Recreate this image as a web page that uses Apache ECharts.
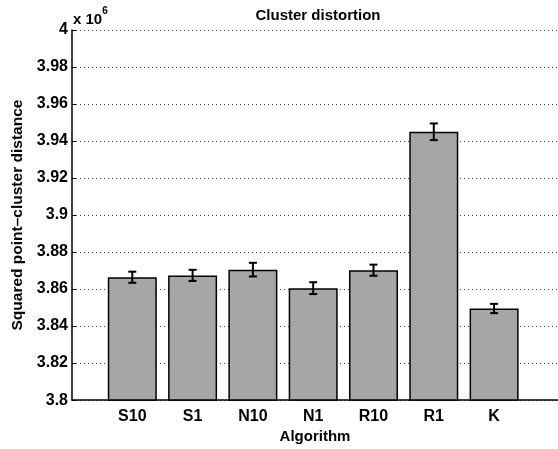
<!DOCTYPE html>
<html>
<head>
<meta charset="utf-8">
<script src="https://cdn.jsdelivr.net/npm/echarts@6/dist/echarts.min.js"></script>
<style>
  html, body { margin: 0; padding: 0; background: #fff; }
  #chart { width: 558px; height: 449px; }
</style>
</head>
<body>
<div id="chart"></div>
<script>
// Algorithms compared
const categories = ['S10', 'S1', 'N10', 'N1', 'R10', 'R1', 'K'];
// Mean squared point-cluster distance, in units of 10^6
const distortion = [3.8664, 3.8674, 3.8705, 3.8605, 3.8702, 3.9450, 3.8495];
// Half-height of each error bar, same units
const errorHalf = [0.0030, 0.0030, 0.0037, 0.0032, 0.0030, 0.0045, 0.0025];
// Y-axis ticks
const yMin = 3.8, yMax = 4.0, yStep = 0.02;

const FONT = 'Liberation Sans, Arial, Helvetica, sans-serif';

const barData = categories.map((c, i) => [i + 1, distortion[i]]);
const errData = categories.map((c, i) => [i + 1, distortion[i] - errorHalf[i], distortion[i] + errorHalf[i]]);

const chart = echarts.init(document.getElementById('chart'), null, { renderer: 'canvas' });

chart.setOption({
  animation: false,
  backgroundColor: '#ffffff',
  title: {
    text: 'Cluster distortion',
    left: 313, top: 3, textAlign: 'center',
    textStyle: { fontFamily: FONT, fontSize: 15, fontWeight: 'bold', color: '#000' }
  },
  graphic: [{
    type: 'text',
    left: 73, top: 6,
    style: {
      text: '{a|x 10}{b|6}',
      rich: {
        a: { fontFamily: FONT, fontSize: 15, fontWeight: 'bold', fill: '#000', padding: [6, 0, 0, 0] },
        b: { fontFamily: FONT, fontSize: 10, fontWeight: 'bold', fill: '#000', verticalAlign: 'top' }
      }
    }
  }],
  grid: { left: 72, top: 30, right: 0, bottom: 45, containLabel: false },
  xAxis: {
    type: 'value',
    min: 0, max: 8.06, interval: 1,
    name: 'Algorithm',
    nameLocation: 'middle',
    nameGap: 24,
    nameTextStyle: { fontFamily: FONT, fontSize: 15, fontWeight: 'bold', color: '#000' },
    axisLine: { show: true, lineStyle: { color: '#000', width: 1.5 } },
    axisTick: { show: false },
    splitLine: { show: false },
    axisLabel: {
      showMaxLabel: false,
      margin: 8,
      fontFamily: FONT, fontSize: 16, fontWeight: 'bold', color: '#000',
      formatter: v => (Number.isInteger(v) && categories[v - 1]) ? categories[v - 1] : ''
    }
  },
  yAxis: {
    type: 'value',
    min: yMin, max: yMax, interval: yStep,
    name: 'Squared point–cluster distance',
    nameLocation: 'middle',
    nameGap: 37,
    nameTextStyle: { fontFamily: FONT, fontSize: 15.5, fontWeight: 'bold', color: '#000' },
    axisLine: { show: true, lineStyle: { color: '#000', width: 1.5 } },
    axisTick: { show: true, inside: true, length: 4, lineStyle: { color: '#000', width: 1 } },
    splitLine: { show: true, lineStyle: { color: '#444', width: 1, type: [1, 3] } },
    axisLabel: {
      margin: 4,
      fontFamily: FONT, fontSize: 16, fontWeight: 'bold', color: '#000',
      formatter: v => String(parseFloat(v.toFixed(2)))
    }
  },
  series: [
    {
      type: 'bar',
      data: barData,
      barWidth: 49,
      itemStyle: { color: '#a6a6a6', borderColor: '#000', borderWidth: 1.5 },
      z: 2
    },
    {
      type: 'custom',
      data: errData,
      z: 3,
      renderItem: function (params, api) {
        const x = api.value(0);
        const lo = api.coord([x, api.value(1)]);
        const hi = api.coord([x, api.value(2)]);
        const cap = 4;
        const style = { stroke: '#000', lineWidth: 2 };
        return {
          type: 'group',
          children: [
            { type: 'line', shape: { x1: hi[0], y1: hi[1], x2: lo[0], y2: lo[1] }, style },
            { type: 'line', shape: { x1: hi[0] - cap, y1: hi[1], x2: hi[0] + cap, y2: hi[1] }, style },
            { type: 'line', shape: { x1: lo[0] - cap, y1: lo[1], x2: lo[0] + cap, y2: lo[1] }, style }
          ]
        };
      }
    }
  ]
});
</script>
</body>
</html>
